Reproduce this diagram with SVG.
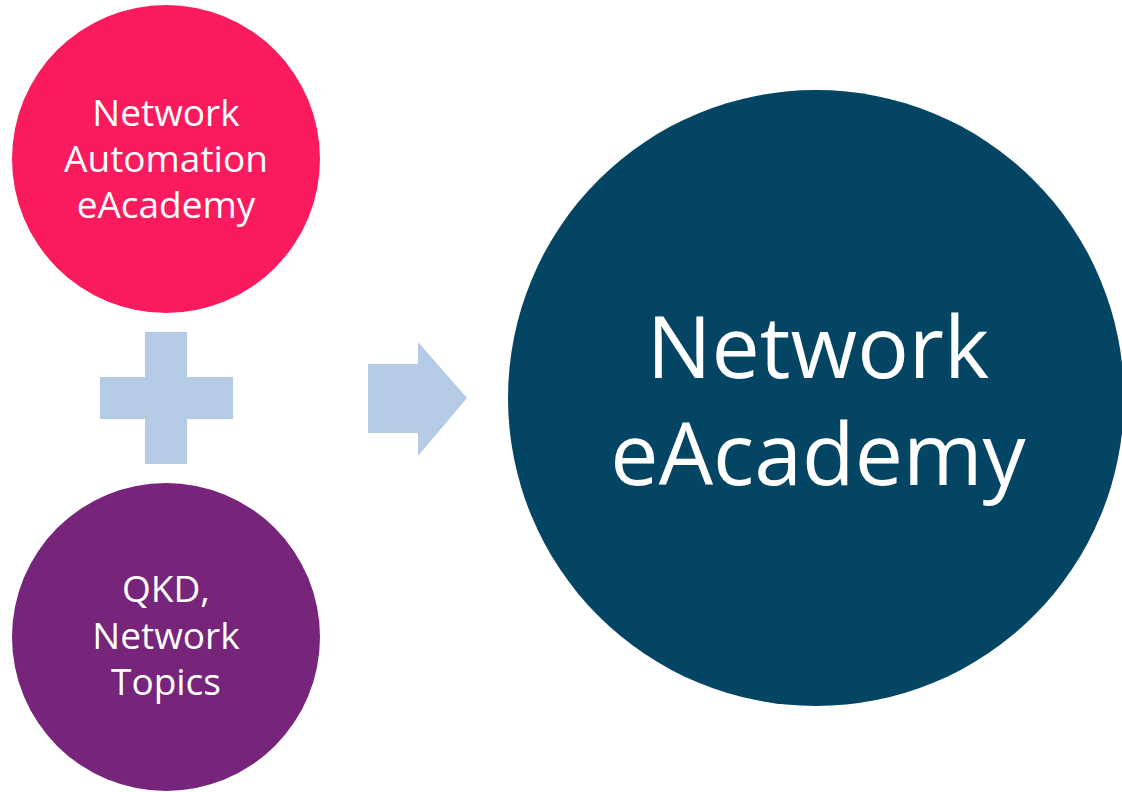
<svg xmlns="http://www.w3.org/2000/svg" width="1122" height="792" viewBox="0 0 1122 792">
<style>
text{font-family:"Open Sans","Liberation Sans",sans-serif;fill:#ffffff;text-anchor:middle}
.s{font-size:37px}
.b{font-size:86px}
.shape{fill:#B4CAE5}
</style>
<rect width="1122" height="792" fill="#ffffff"/>
<g id="node-automation">
<circle cx="166" cy="159" r="154" fill="#F91B5D"/>
<text class="s" x="166" y="126">Network</text>
<text class="s" x="166" y="172">Automation</text>
<text class="s" x="166" y="218">eAcademy</text>
</g>
<g id="node-qkd">
<circle cx="166" cy="637" r="154" fill="#76257B"/>
<text class="s" x="166" y="602">QKD,</text>
<text class="s" x="166" y="649">Network</text>
<text class="s" x="166" y="695">Topics</text>
</g>
<g id="node-network">
<circle cx="816" cy="398" r="308" fill="#044563"/>
<text class="b" x="818" y="378">Network</text>
<text class="b" x="818" y="485">eAcademy</text>
</g>
<g id="connectors">
<path class="shape" d="M145 332H187V377H233V419H187V464H145V419H100V377H145Z"/>
<path class="shape" d="M368 364H418V342L467 398L418 456V433H368Z"/>
</g>
</svg>
